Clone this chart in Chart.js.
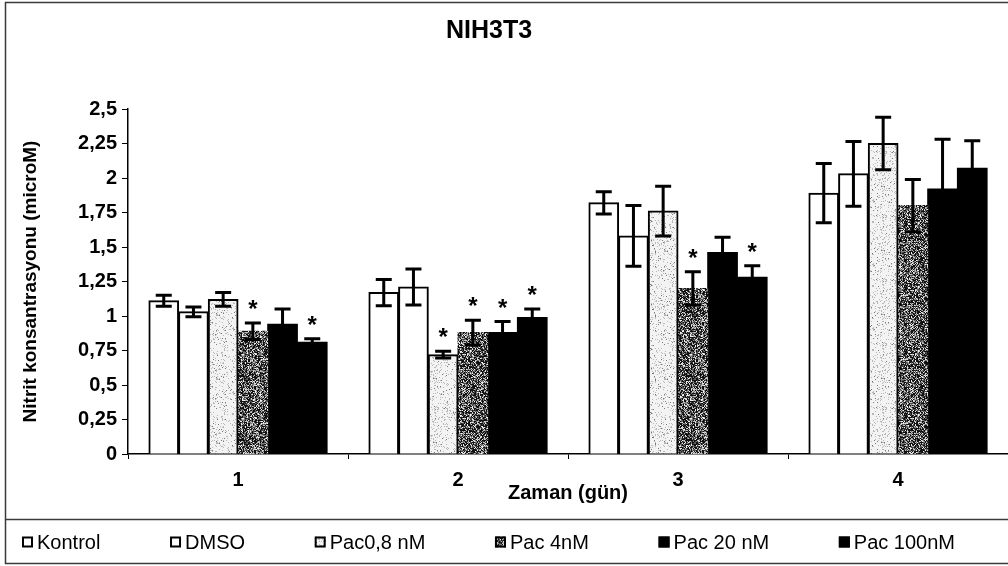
<!DOCTYPE html>
<html>
<head>
<meta charset="utf-8">
<script src="https://cdn.jsdelivr.net/npm/chart.js@4.4.1/dist/chart.umd.min.js"></script>
<style>
  html, body { margin: 0; padding: 0; background: #fff; }
  canvas { display: block; }
</style>
</head>
<body>
<canvas id="chart" width="1008" height="566"></canvas>
<script>
const FONT = "'Liberation Sans', Arial, sans-serif";

// days and groups
const days = ["1", "2", "3", "4"];
const seriesNames = ["Kontrol", "DMSO", "Pac0,8 nM", "Pac 4nM", "Pac 20 nM", "Pac 100nM"];

// mean nitrite (microM) per day
const kontrol = [1.11, 1.17, 1.82, 1.89];
const dmso    = [1.03, 1.21, 1.58, 2.03];
const pac08   = [1.12, 0.72, 1.76, 2.25];
const pac4    = [0.89, 0.88, 1.20, 1.80];
const pac20   = [0.94, 0.88, 1.46, 1.92];
const pac100  = [0.81, 0.99, 1.28, 2.07];

// standard error per day
const kontrolErr = [0.04, 0.095, 0.08, 0.215];
const dmsoErr    = [0.035, 0.13, 0.22, 0.235];
const pac08Err   = [0.05, 0.025, 0.18, 0.19];
const pac4Err    = [0.06, 0.09, 0.12, 0.19];
const pac20Err   = [0.11, 0.08, 0.11, 0.36];
const pac100Err  = [0.025, 0.06, 0.085, 0.20];

// significance marks (*)
const kontrolSig = [0, 0, 0, 0];
const dmsoSig    = [0, 0, 0, 0];
const pac08Sig   = [0, 1, 0, 0];
const pac4Sig    = [1, 1, 1, 0];
const pac20Sig   = [0, 1, 0, 0];
const pac100Sig  = [1, 1, 1, 0];

const yTicks = [0, 0.25, 0.5, 0.75, 1, 1.25, 1.5, 1.75, 2, 2.25, 2.5];

// small grainy fills like the printed hatching
function grain(base, specks, seed) {
  const c = document.createElement("canvas");
  c.width = c.height = 64;
  const g = c.getContext("2d");
  g.fillStyle = base;
  g.fillRect(0, 0, 64, 64);
  let s = seed;
  const next = () => (s = (s * 16807) % 2147483647) / 2147483647;
  for (let y = 0; y < 64; y++) {
    for (let x = 0; x < 64; x++) {
      const r = next();
      let acc = 0;
      for (const [col, p] of specks) {
        acc += p;
        if (r < acc) { g.fillStyle = col; g.fillRect(x, y, 1, 1); break; }
      }
    }
  }
  return g.createPattern(c, "repeat");
}

const lightDots = grain("#f3f3f3", [["#b8b8b8", 0.12], ["#7a7a7a", 0.03]], 1234);
const darkDots = grain("#7a7a7a", [["#101010", 0.4], ["#4a4a4a", 0.18], ["#bdbdbd", 0.18], ["#f0f0f0", 0.1]], 987);

const values = [kontrol, dmso, pac08, pac4, pac20, pac100];
const errors = [kontrolErr, dmsoErr, pac08Err, pac4Err, pac20Err, pac100Err];
const marks = [kontrolSig, dmsoSig, pac08Sig, pac4Sig, pac20Sig, pac100Sig];
const fills = ["#ffffff", "#ffffff", lightDots, darkDots, "#000000", "#000000"];
const borders = [2, 2, 2, 0, 0, 0];

const datasets = seriesNames.map((name, i) => ({
  label: name,
  data: values[i],
  backgroundColor: fills[i],
  borderColor: "#000",
  borderWidth: borders[i],
  inflateAmount: 0.5,
  errors: errors[i],
  marks: marks[i]
}));

// whiskers and asterisks on top of the bars
const errorBars = {
  id: "errorBars",
  afterDatasetsDraw(chart) {
    const ctx = chart.ctx;
    const y = chart.scales.y;
    ctx.save();
    ctx.strokeStyle = "#000";
    ctx.fillStyle = "#000";
    ctx.lineWidth = 3;
    chart.data.datasets.forEach((ds, i) => {
      chart.getDatasetMeta(i).data.forEach((bar, j) => {
        const v = ds.data[j], e = ds.errors[j];
        const top = y.getPixelForValue(v + e);
        const bot = y.getPixelForValue(v - e);
        ctx.beginPath();
        ctx.moveTo(bar.x, top); ctx.lineTo(bar.x, bot);
        ctx.moveTo(bar.x - 8, top); ctx.lineTo(bar.x + 8, top);
        ctx.moveTo(bar.x - 8, bot); ctx.lineTo(bar.x + 8, bot);
        ctx.stroke();
        if (ds.marks[j]) {
          ctx.font = "bold 24px " + FONT;
          ctx.textAlign = "center";
          ctx.textBaseline = "alphabetic";
          ctx.fillText("*", bar.x, top - 6);
        }
      });
    });
    ctx.restore();
  }
};

// outer frame, chart title and the boxed legend row
const frame = {
  id: "frame",
  beforeDraw(chart) {
    const ctx = chart.ctx;
    ctx.save();
    ctx.fillStyle = "#fff";
    ctx.fillRect(0, 0, chart.width, chart.height);
    ctx.restore();
  },
  afterDraw(chart) {
    const ctx = chart.ctx;
    ctx.save();
    ctx.strokeStyle = "#3a3a3a";
    ctx.lineWidth = 1.5;
    ctx.beginPath();
    ctx.moveTo(chart.width + 2, 2.5); ctx.lineTo(5.5, 2.5); ctx.lineTo(5.5, 563.5); ctx.lineTo(chart.width + 2, 563.5);
    ctx.moveTo(5.5, 519.5); ctx.lineTo(chart.width + 2, 519.5);
    ctx.stroke();

    ctx.fillStyle = "#000";
    ctx.font = "bold 25px " + FONT;
    ctx.textAlign = "center";
    ctx.textBaseline = "middle";
    ctx.fillText("NIH3T3", 489, 31);

    ctx.font = "20px " + FONT;
    ctx.textAlign = "left";
    const box = 11, gap = 4, startX = 22, endX = 955, cy = 542;
    const items = chart.data.datasets.map(ds => ({ text: ds.label, fill: ds.backgroundColor, w: ctx.measureText(ds.label).width }));
    const used = items.reduce((s, it) => s + box + gap + it.w, 0);
    const spacing = (endX - startX - used) / (items.length - 1);
    let x = startX;
    items.forEach(it => {
      ctx.fillStyle = it.fill;
      ctx.fillRect(x, cy - box / 2, box, box);
      ctx.lineWidth = 2;
      ctx.strokeStyle = "#000";
      ctx.strokeRect(x + 1, cy - box / 2 + 1, box - 2, box - 2);
      ctx.fillStyle = "#000";
      ctx.fillText(it.text, x + box + gap, cy + 1);
      x += box + gap + it.w + spacing;
    });
    ctx.restore();
  }
};

new Chart(document.getElementById("chart"), {
  type: "bar",
  data: { labels: days, datasets },
  plugins: [frame, errorBars],
  options: {
    responsive: false,
    animation: false,
    devicePixelRatio: 1,
    layout: { padding: { left: 8, right: 0, top: 109, bottom: 47 } },
    datasets: { bar: { categoryPercentage: 0.81, barPercentage: 1 } },
    plugins: {
      legend: { display: false },
      tooltip: { enabled: false },
      title: { display: false }
    },
    scales: {
      x: {
        grid: { offset: true, drawOnChartArea: false, tickLength: 5, color: "#000", lineWidth: 1 },
        border: { color: "#000", width: 1.5 },
        ticks: { padding: 9, color: "#000", font: { family: FONT, size: 20, weight: "bold" } },
        title: {
          display: true, text: "Zaman (gün)", color: "#000",
          font: { family: FONT, size: 20, weight: "bold" },
          padding: { top: 0, bottom: 14 }
        },
        afterFit: s => { s.height = 65; }
      },
      y: {
        min: 0, max: 2.5,
        afterBuildTicks: s => { s.ticks = yTicks.map(v => ({ value: v })); },
        grid: { drawOnChartArea: false, tickLength: 6, color: "#000", lineWidth: 1 },
        border: { color: "#000", width: 1.5 },
        ticks: {
          padding: 5, color: "#000",
          font: { family: FONT, size: 20, weight: "bold" },
          callback: v => String(v).replace(".", ",")
        },
        title: {
          display: true, text: "Nitrit konsantrasyonu (microM)", color: "#000",
          font: { family: FONT, size: 19, weight: "bold" },
          padding: { top: 11, bottom: 0 }
        },
        afterFit: s => { s.width = 120; }
      }
    }
  }
});
</script>
</body>
</html>
